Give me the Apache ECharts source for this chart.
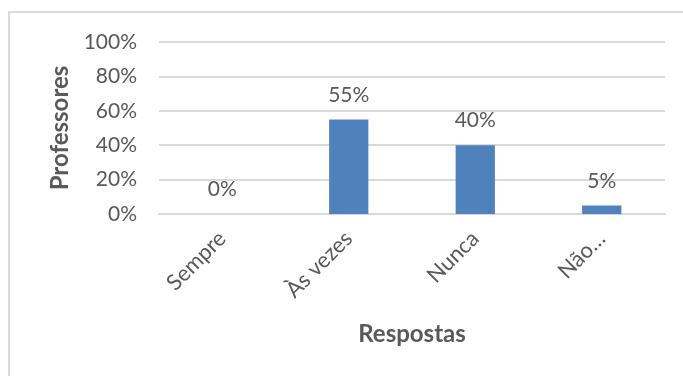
<!DOCTYPE html>
<html><head><meta charset="utf-8">
<script src="https://cdn.jsdelivr.net/npm/echarts@6/dist/echarts.min.js"></script>
<style>html,body{margin:0;padding:0;background:#fff}#c{width:683px;height:376px}</style>
</head><body><div id="c"></div>
<script>
const categories = ['Sempre', 'Às vezes', 'Nunca', 'Não…'];
const values = [0, 55, 40, 5];
const yTicks = [0, 20, 40, 60, 80, 100];
const xTitle = 'Respostas';
const yTitle = 'Professores';

const chart = echarts.init(document.getElementById('c'));
const FONT = 'Lato';
const TXT = '#595959';
chart.setOption({
  animation: false,
  graphic: [{
    type: 'rect', shape: { x: 9, y: 12, width: 720, height: 420 },
    style: { fill: 'none', stroke: '#d9d9d9', lineWidth: 2 }, silent: true, z: -1
  }],
  grid: { left: 159, right: 18, top: 42, bottom: 162 },
  xAxis: {
    type: 'category', data: categories,
    name: xTitle, nameLocation: 'middle', nameGap: 108,
    nameTextStyle: { fontFamily: FONT, fontWeight: 'bold', fontSize: 24, color: TXT },
    axisLine: { lineStyle: { color: '#d9d9d9', width: 2 } },
    axisTick: { show: false },
    axisLabel: { rotate: 45, margin: 21, fontFamily: FONT, fontSize: 22, color: TXT, interval: 0 }
  },
  yAxis: {
    type: 'value', min: yTicks[0], max: yTicks[yTicks.length - 1], interval: 20,
    name: yTitle, nameLocation: 'middle', nameGap: 86, nameRotate: 90,
    nameTextStyle: { fontFamily: FONT, fontWeight: 'bold', fontSize: 24, color: TXT },
    axisLine: { show: false }, axisTick: { show: false },
    axisLabel: { margin: 22, fontFamily: FONT, fontSize: 21, color: TXT, formatter: v => v + '%' },
    splitLine: { lineStyle: { color: '#d9d9d9', width: 2 } }
  },
  series: [{
    type: 'bar', data: values, barWidth: '31%',
    itemStyle: { color: '#4f81bd' },
    label: { show: true, position: 'top', distance: 14, fontFamily: FONT, fontSize: 21, color: TXT, formatter: p => p.value + '%' }
  }]
});
</script></body></html>
